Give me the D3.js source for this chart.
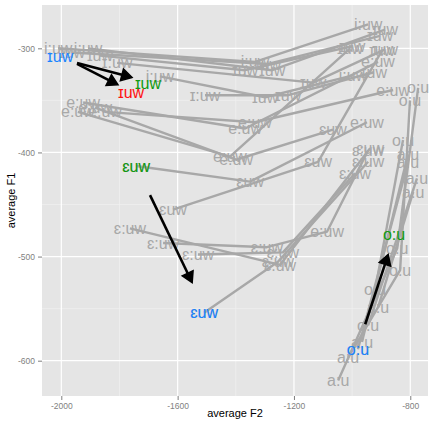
<!DOCTYPE html>
<html><head><meta charset="utf-8">
<script src="https://cdn.jsdelivr.net/npm/d3@7"></script>
<style>
html,body{margin:0;padding:0;background:#fff;}
svg{display:block;font-family:"Liberation Sans",Arial,Helvetica,sans-serif;}
</style></head><body>
<svg id="chart" width="433" height="423"></svg>
<script>
// Per-speaker formant trajectories: one entry per measured point.
const pointPath = [0,0,0, 1,1,1, 2,2,2, 3,3,3, 4,4,4, 5,5,5, 6,6,6,
  7,7,7, 8,8,8, 9,9,9, 10,10,10, 11,11,11, 12,12,12,
  13,13,13, 14,14,14,14, 15,15,15, 16,16,16,
  17,17,17, 18,18,18, 19,19, 20,20, 21,21, 22,22, 23,23];
const pointVowel = ["i:uw","i:uw","i:uw", "i:uw","ɪuw","ɪuw", "ɪuw","ɪuw","ɪuw", "ɪuw","ɪuw","ɪuw",
  "ɪ:uw","ɪuw","ɪuw", "i:uw","ɪuw","i:uw", "ɪ:uw","ɪuw","ɪuw",
  "e:uw","e:uw","e:uw", "e:uw","e:uw","ɪuw", "e:uw","e:uw","e:uw", "e:uw","e:uw","ɛuw",
  "ɛuw","ɛuw","e:uw", "ɛuw","ɛuw","ɪuw",
  "ɛ:uw","ɛ:uw","ɛuw", "ɛ:uw","ɛ:uw","e:uw","ɛ:uw", "ɛ:uw","ɛ:uw","ɛ:uw", "ɛuw","ɛ:uw","ɛ:uw",
  "a:u","o:u","o:u", "a:u","o:u","o:u", "a:u","a:u", "a:u","a:u", "o:u","o:u", "o:u","a:u", "o:u","a:u"];
const pointF2 = [-2011,-1334,-945, -1908,-1275,-887, -1963,-1289,-904, -1867,-1368,-1000,
  -1808,-1134,-887, -1661,-1299,-997, -1506,-1220,-925,
  -1925,-1368,-911, -1943,-1420,-1007, -1850,-1334,-859, -1884,-1399,-1066,
  -1743,-1351,-949, -1616,-1117,-897,
  -1764,-1248,-938, -1650,-1293,-1086,-945, -1530,-1238,-990, -1509,-1255,-945,
  -1048,-845,-773, -1014,-835,-801, -966,-808, -911,-790, -921,-825, -980,-808, -945,-777];
const pointF1 = [-300,-313,-277, -300,-321,-282, -304,-315,-288, -307,-321,-298,
  -314,-333,-301, -327,-347,-326, -345,-345,-323,
  -352,-377,-313, -361,-404,-300, -361,-371,-340, -357,-407,-378,
  -413,-428,-371, -455,-409,-302,
  -473,-508,-396, -487,-491,-476,-398, -498,-496,-420, -554,-505,-409,
  -619,-492,-338, -597,-513,-350, -582,-402, -549,-438, -532,-388, -589,-410, -566,-425];

// Group means for three vowel classes.
const meanVowel = ["ɪuw","ɪuw","ɪuw","ɛuw","ɛuw","o:u","o:u"];
const meanGroup = ["A","B","C","B","A","B","A"];
const meanF2 = [-2004,-1702,-1760,-1743,-1509,-856,-980];
const meanF1 = [-308,-334,-342,-413,-554,-479,-589];

// Arrows showing the shift between group means.
const arrowFromF2 = [-1946,-1946,-1695,-955];
const arrowFromF1 = [-314,-315,-441,-565];
const arrowToF2 = [-1757,-1805,-1550,-876];
const arrowToF1 = [-328,-335,-525,-498];

const xTicks = [-2000,-1600,-1200,-800];
const xMinor = [-1800,-1400,-1000];
const yTicks = [-300,-400,-500,-600];
const yMinor = [-350,-450,-550];

const groupColor = d3.scaleOrdinal().domain(["A","B","C"]).range(["#1a84ff","#119a11","#ff1010"]);

const svg = d3.select("#chart");
const panel = {left:42, right:428, top:5, bottom:396};
const x = d3.scaleLinear().domain([-2066.4,-739.1]).range([panel.left, panel.right]);
const y = d3.scaleLinear().domain([-258.4,-633.9]).range([panel.top, panel.bottom]);

// panel background + grid
svg.append("rect").attr("x",panel.left).attr("y",panel.top)
  .attr("width",panel.right-panel.left).attr("height",panel.bottom-panel.top).attr("fill","#e5e5e5");
const grid = svg.append("g");
grid.selectAll(".vmin").data(xMinor).join("line")
  .attr("x1",d=>x(d)).attr("x2",d=>x(d)).attr("y1",panel.top).attr("y2",panel.bottom)
  .attr("stroke","#f2f2f2").attr("stroke-width",0.6);
grid.selectAll(".hmin").data(yMinor).join("line")
  .attr("y1",d=>y(d)).attr("y2",d=>y(d)).attr("x1",panel.left).attr("x2",panel.right)
  .attr("stroke","#f2f2f2").attr("stroke-width",0.6);
grid.selectAll(".vmaj").data(xTicks).join("line")
  .attr("x1",d=>x(d)).attr("x2",d=>x(d)).attr("y1",panel.top).attr("y2",panel.bottom)
  .attr("stroke","#ffffff").attr("stroke-width",1.2);
grid.selectAll(".hmaj").data(yTicks).join("line")
  .attr("y1",d=>y(d)).attr("y2",d=>y(d)).attr("x1",panel.left).attr("x2",panel.right)
  .attr("stroke","#ffffff").attr("stroke-width",1.2);

// axes (plain hyphen-minus, no thousands separator)
const fmt = d => String(d);
const xAxis = d3.axisBottom(x).tickValues(xTicks).tickFormat(fmt).tickSize(4).tickPadding(3);
const yAxis = d3.axisLeft(y).tickValues(yTicks).tickFormat(fmt).tickSize(4).tickPadding(3);
const gx = svg.append("g").attr("transform",`translate(0,${panel.bottom})`).call(xAxis);
const gy = svg.append("g").attr("transform",`translate(${panel.left},0)`).call(yAxis);
[gx,gy].forEach(g=>{
  g.select(".domain").remove();
  g.selectAll(".tick line").attr("stroke","#7f7f7f");
  g.selectAll(".tick text").attr("fill","#7f7f7f").style("font-size","8.5px")
    .style("font-family","'Liberation Sans',Arial,sans-serif");
});

svg.append("text").attr("x",(panel.left+panel.right)/2).attr("y",417)
  .attr("text-anchor","middle").style("font-size","11px").attr("fill","#000").text("average F2");
svg.append("text").attr("transform",`translate(15,${(panel.top+panel.bottom)/2}) rotate(-90)`)
  .attr("text-anchor","middle").style("font-size","11px").attr("fill","#000").text("average F1");

// trajectories
const points = pointPath.map((p,i)=>({path:p, vowel:pointVowel[i], f2:pointF2[i], f1:pointF1[i]}));
const paths = d3.groups(points, d=>d.path);
const line = d3.line().x(d=>x(d.f2)).y(d=>y(d.f1));
const plot = svg.append("g");
plot.selectAll(".traj").data(paths).join("path")
  .attr("d",d=>line(d[1])).attr("fill","none").attr("stroke","#a8a8a8")
  .attr("stroke-width",2.4).attr("stroke-linejoin","round");
plot.selectAll(".lab").data(points).join("text")
  .attr("x",d=>x(d.f2)).attr("y",d=>y(d.f1)).attr("dy","0.35em")
  .attr("text-anchor","middle").style("font-size","16px").attr("fill","#a8a8a8")
  .text(d=>d.vowel);

// group means
const means = meanVowel.map((v,i)=>({vowel:v, group:meanGroup[i], f2:meanF2[i], f1:meanF1[i]}));
plot.selectAll(".mean").data(means).join("text")
  .attr("x",d=>x(d.f2)).attr("y",d=>y(d.f1)).attr("dy","0.35em")
  .attr("text-anchor","middle").style("font-size","16px").attr("fill",d=>groupColor(d.group))
  .text(d=>d.vowel);

// arrows
const arrows = arrowFromF2.map((_,i)=>({x1:x(arrowFromF2[i]),y1:y(arrowFromF1[i]),x2:x(arrowToF2[i]),y2:y(arrowToF1[i])}));
const headLen = 12, headAng = Math.PI/6;
arrows.forEach(a=>{
  const ang = Math.atan2(a.y2-a.y1, a.x2-a.x1);
  const bx = a.x2 - headLen*Math.cos(headAng)*Math.cos(ang);
  const by = a.y2 - headLen*Math.cos(headAng)*Math.sin(ang);
  plot.append("line").attr("x1",a.x1).attr("y1",a.y1).attr("x2",bx).attr("y2",by)
    .attr("stroke","#000").attr("stroke-width",2.6);
  const p1 = [a.x2 - headLen*Math.cos(ang-headAng), a.y2 - headLen*Math.sin(ang-headAng)];
  const p2 = [a.x2 - headLen*Math.cos(ang+headAng), a.y2 - headLen*Math.sin(ang+headAng)];
  plot.append("polygon").attr("points",[[a.x2,a.y2],p1,p2].map(p=>p.join(",")).join(" "))
    .attr("fill","#000").attr("stroke","#000").attr("stroke-width",1.5).attr("stroke-linejoin","miter");
});
</script>
</body></html>
